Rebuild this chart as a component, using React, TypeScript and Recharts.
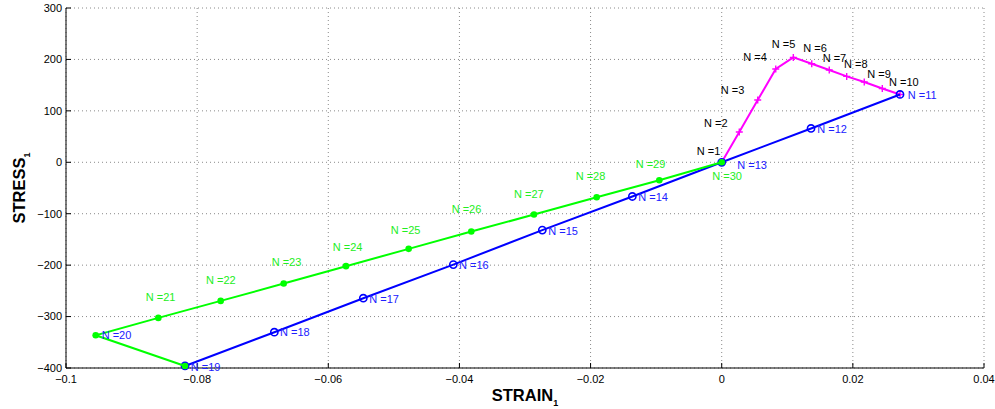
import React from 'react';
import { ComposedChart, Scatter, XAxis, YAxis, CartesianGrid } from 'recharts';

// Loading path (N = 1 .. 11), magenta '+'
const loadStrain = [0, 0.00268, 0.00549, 0.00824, 0.01092, 0.01373, 0.0164, 0.01906, 0.02174, 0.02449, 0.02719];
const loadStress = [0, 58.8, 121, 181.4, 203.9, 191.7, 179.4, 167, 156.1, 143.6, 131.9];

// Unloading path (N = 11 .. 19), blue 'o'
const unloadStrain = [0.02719, 0.01362, 0, -0.01363, -0.02736, -0.04093, -0.05466, -0.06823, -0.08185];
const unloadStress = [131.9, 65.8, 0, -66.5, -131.9, -198.9, -264.3, -330.4, -396];

// Reloading path (N = 19 .. 30), green '.'
const reloadStrain = [-0.08185, -0.09547, -0.08592, -0.07641, -0.0668, -0.0573, -0.04774, -0.03819, -0.02863, -0.01907, -0.00952, 0];
const reloadStress = [-396, -336.3, -302.6, -269.5, -235.8, -202, -168.3, -134.7, -101.6, -67.9, -34.8, 0];

// Point labels "N =k" anchored in data units
const labelN = [1, 2, 3, 4, 5, 6, 7, 8, 9, 10, 11, 12, 13, 14, 15, 16, 17, 18, 19, 20, 21, 22, 23, 24, 25, 26, 27, 28, 29, 30];
const labelStrain = [
  -0.00381, -0.0027, -0.00015, 0.00329, 0.00763, 0.01244, 0.0154, 0.01865, 0.0222, 0.02551,
  0.02837, 0.01458, 0.00238, -0.01272, -0.02645, -0.04006, -0.05374, -0.06736, -0.08098, -0.09456,
  -0.08784, -0.07865, -0.06863, -0.05932, -0.05048, -0.04118, -0.03168, -0.02227, -0.01312, -0.00143,
];
const labelStress = [
  21.8, 76.3, 140.5, 204.7, 230, 222.2, 202, 190.3, 171.6, 156.1,
  130.8, 64.6, -5.4, -67.7, -132.7, -200, -265.6, -330.4, -397.4, -335.7,
  -262.3, -228.6, -194.2, -165, -131.9, -91.1, -61.3, -25.7, -3.5, -25.7,
];
const labelGroup = [
  'load', 'load', 'load', 'load', 'load', 'load', 'load', 'load', 'load', 'load',
  'unload', 'unload', 'unload', 'unload', 'unload', 'unload', 'unload', 'unload', 'unload', 'unload',
  'reload', 'reload', 'reload', 'reload', 'reload', 'reload', 'reload', 'reload', 'reload', 'reload',
];

const xTicks = [-0.1, -0.08, -0.06, -0.04, -0.02, 0, 0.02, 0.04];
const yTicks = [-400, -300, -200, -100, 0, 100, 200, 300];

const FONT = '"Liberation Sans", Arial, Helvetica, sans-serif';
const MAGENTA = '#ff00ff';
const BLUE = '#0000ff';
const GREEN = '#00ff00';
const groupColor: Record<string, string> = { load: '#000000', unload: '#2020ff', reload: '#22ee22' };

const zip = (xs: number[], ys: number[]) => xs.map((x, i) => ({ x, y: ys[i] }));
const loadData = zip(loadStrain, loadStress);
const unloadData = zip(unloadStrain, unloadStress);
const reloadData = zip(reloadStrain, reloadStress);
const labelData = labelN.map((n, i) => ({ x: labelStrain[i], y: labelStress[i], n, g: labelGroup[i] }));

const fmtX = (v: number) => (v === 0 ? '0' : String(+v.toFixed(2)).replace('-', '\u2212'));
const fmtY = (v: number) => String(v).replace('-', '\u2212');

const PlusShape = (p: any) => {
  const { cx, cy } = p;
  if (cx == null || cy == null) return null;
  return <path d={`M${cx - 3.5},${cy} h7 M${cx},${cy - 3.5} v7`} stroke={MAGENTA} strokeWidth={1.4} fill="none" />;
};
const CircleShape = (p: any) => {
  const { cx, cy } = p;
  if (cx == null || cy == null) return null;
  return <circle cx={cx} cy={cy} r={3.6} stroke={BLUE} strokeWidth={1.6} fill="none" />;
};
const DotShape = (p: any) => {
  const { cx, cy } = p;
  if (cx == null || cy == null) return null;
  return <circle cx={cx} cy={cy} r={3.3} fill={GREEN} stroke="none" />;
};
const LabelShape = (p: any) => {
  const { cx, cy, payload } = p;
  if (cx == null || cy == null || !payload) return null;
  return (
    <text x={cx} y={cy} dominantBaseline="central" textAnchor="start" fontFamily={FONT} fontSize={11} fill={groupColor[payload.g]}>
      {`N =${payload.n}`}
    </text>
  );
};

const XTitle = (props: any) => {
  const vb = props.viewBox || { x: 66, y: 368, width: 918, height: 41 };
  return (
    <text x={vb.x + vb.width / 2} y={vb.y + 33} textAnchor="middle" fontFamily={FONT} fontWeight="bold" fontSize={16.5} fill="#000">
      STRAIN<tspan fontSize={9} dy={5}>1</tspan>
    </text>
  );
};
const YTitle = (props: any) => {
  const vb = props.viewBox || { x: 0, y: 7.5, width: 66, height: 360.5 };
  const cx = 24.5;
  const cy = vb.y + vb.height / 2;
  return (
    <text x={cx} y={cy} transform={`rotate(-90 ${cx} ${cy})`} textAnchor="middle" fontFamily={FONT} fontWeight="bold" fontSize={16.5} fill="#000">
      STRESS<tspan fontSize={9} dy={5}>1</tspan>
    </text>
  );
};

export default function App() {
  return (
    <div style={{ position: 'absolute', left: 0, top: 0, width: 995, height: 409, background: '#fff' }}>
      <ComposedChart width={995} height={409} margin={{ top: 8, right: 11, bottom: 0, left: 0 }}>
        <CartesianGrid stroke="#8a8a8a" strokeDasharray="1 3" strokeWidth={1} />
        <XAxis
          type="number"
          dataKey="x"
          domain={[-0.1, 0.04]}
          ticks={xTicks}
          height={41}
          tickFormatter={fmtX}
          tickSize={-5}
          tickMargin={12}
          axisLine={{ stroke: '#000', strokeWidth: 1 }}
          tickLine={{ stroke: '#000', strokeWidth: 1 }}
          tick={{ fill: '#000', fontSize: 11, fontFamily: FONT }}
          interval={0}
          label={{ content: XTitle }}
        />
        <YAxis
          type="number"
          dataKey="y"
          domain={[-400, 300]}
          ticks={yTicks}
          width={66}
          tickFormatter={fmtY}
          tickSize={-5}
          tickMargin={9}
          axisLine={{ stroke: '#000', strokeWidth: 1 }}
          tickLine={{ stroke: '#000', strokeWidth: 1 }}
          tick={{ fill: '#000', fontSize: 11, fontFamily: FONT }}
          interval={0}
          label={{ content: YTitle }}
        />
        <Scatter data={loadData} line={{ stroke: MAGENTA, strokeWidth: 2 }} lineType="joint" shape={PlusShape} fill={MAGENTA} isAnimationActive={false} />
        <Scatter data={unloadData} line={{ stroke: BLUE, strokeWidth: 2 }} lineType="joint" shape={CircleShape} fill={BLUE} isAnimationActive={false} />
        <Scatter data={reloadData} line={{ stroke: GREEN, strokeWidth: 2 }} lineType="joint" shape={DotShape} fill={GREEN} isAnimationActive={false} />
        <Scatter data={labelData} shape={LabelShape} fill="#000" isAnimationActive={false} />
      </ComposedChart>
    </div>
  );
}
